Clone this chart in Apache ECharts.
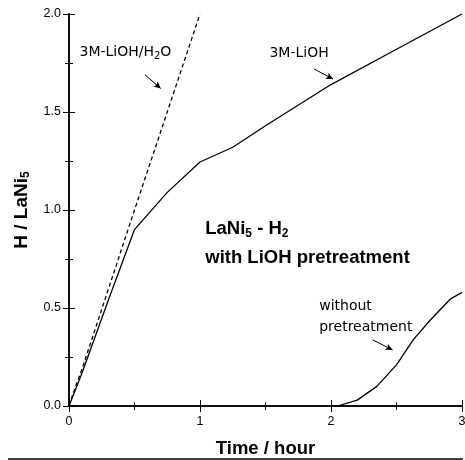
<!DOCTYPE html>
<html>
<head>
<meta charset="utf-8">
<script src="https://cdn.jsdelivr.net/npm/echarts@6/dist/echarts.min.js"></script>
<style>
  html, body { margin: 0; padding: 0; background: #fff; }
  #chart { width: 465px; height: 460px; }
</style>
</head>
<body>
<div id="chart"></div>
<script>
// values
const h2oTime = [0, 0.05, 0.1, 0.5, 1.0]
const h2oH = [0, 0.10, 0.19, 1.0, 2.0]
const liohTime = [0, 0.1, 0.3, 0.5, 0.75, 1.0, 1.25, 1.5, 2.0, 2.5, 3.0]
const liohH = [0, 0.17, 0.54, 0.9, 1.09, 1.245, 1.32, 1.43, 1.64, 1.82, 2.0]
const noPreTime = [2.05, 2.2, 2.35, 2.5, 2.63, 2.76, 2.91, 3.0]
const noPreH = [0, 0.03, 0.10, 0.21, 0.34, 0.44, 0.545, 0.58]

const zip = (xs, ys) => xs.map((x, i) => [x, ys[i]])
const font = 'Liberation Sans, Arial, Helvetica, sans-serif'
const wide = 'DejaVu Sans, Verdana, sans-serif'

const frameAxis = {
  type: 'value',
  axisLine: { show: true, lineStyle: { color: '#000', width: 1.5 } },
  axisTick: { show: true, inside: true, length: 6, lineStyle: { color: '#000', width: 1 } },
  minorTick: { show: true, splitNumber: 2, length: 4, lineStyle: { color: '#000', width: 1 } },
  splitLine: { show: false },
  minorSplitLine: { show: false }
}

const chart = echarts.init(document.getElementById('chart'))

const arrows = [
  [[0.58, 1.69], [0.70, 1.62]],
  [[1.87, 1.72], [2.015, 1.668]],
  [[2.32, 0.337], [2.47, 0.286]]
]

chart.setOption({
  animation: false,
  backgroundColor: '#fff',
  grid: { left: 69, right: 3, top: 14, bottom: 54, containLabel: false, outerBoundsMode: 'none' },
  xAxis: [
    Object.assign({}, frameAxis, {
      min: 0, max: 3, interval: 1, position: 'bottom',
      name: 'Time / hour', nameLocation: 'middle', nameGap: 33,
      nameTextStyle: { fontFamily: font, fontWeight: 'bold', fontSize: 18.5, color: '#000' },
      axisLabel: { margin: 9, fontFamily: font, fontSize: 12.5, color: '#000' }
    }),
    Object.assign({}, frameAxis, {
      min: 0, max: 3, interval: 1, position: 'top', axisLabel: { show: false }
    })
  ],
  yAxis: [
    Object.assign({}, frameAxis, {
      min: 0, max: 2, interval: 0.5, position: 'left',
      name: '{b|H / LaNi}{s|5}', nameLocation: 'middle', nameGap: 37,
      nameTextStyle: {
        rich: {
          b: { fontFamily: font, fontWeight: 'bold', fontSize: 19, color: '#000' },
          s: { fontFamily: font, fontWeight: 'bold', fontSize: 12, color: '#000', padding: [9, 0, 0, 0] }
        }
      },
      axisLabel: { margin: 8, fontFamily: font, fontSize: 12.5, color: '#000', formatter: v => v.toFixed(1) }
    }),
    Object.assign({}, frameAxis, {
      min: 0, max: 2, interval: 0.5, position: 'right', axisLabel: { show: false }
    })
  ],
  series: [
    {
      name: '3M-LiOH/H2O', type: 'line', data: zip(h2oTime, h2oH),
      symbol: 'none', lineStyle: { color: '#000', width: 1.3, type: [4, 3] }
    },
    {
      name: '3M-LiOH', type: 'line', data: zip(liohTime, liohH),
      symbol: 'none', lineStyle: { color: '#000', width: 1.3 }
    },
    {
      name: 'without pretreatment', type: 'line', data: zip(noPreTime, noPreH),
      symbol: 'none', lineStyle: { color: '#000', width: 1.3 },
      markLine: {
        silent: true, animation: false,
        symbol: ['none', 'arrow'], symbolSize: [5, 7],
        label: { show: false },
        lineStyle: { color: '#000', width: 1, type: 'solid' },
        data: arrows.map(a => [{ coord: a[0] }, { coord: a[1] }])
      }
    }
  ]
})

// annotation texts, anchored in data coordinates
const notes = [
  { at: [0.08, 1.806], text: '{n|3M-LiOH/H}{s|2}{n|O}' },
  { at: [1.53, 1.80], text: '{n|3M-LiOH}' },
  { at: [1.04, 0.905], text: '{b|LaNi}{bs|5}{b| - H}{bs|2}' },
  { at: [1.04, 0.755], text: '{b|with LiOH pretreatment}' },
  { at: [1.910, 0.51], text: '{n|without}' },
  { at: [1.910, 0.40], text: '{n|pretreatment}' }
]
const rich = {
  n: { fontFamily: wide, fontSize: 14, fill: '#000' },
  s: { fontFamily: wide, fontSize: 10, fill: '#000', padding: [8, 0, 0, 0] },
  b: { fontFamily: font, fontSize: 18.5, fontWeight: 'bold', fill: '#000' },
  bs: { fontFamily: font, fontSize: 12, fontWeight: 'bold', fill: '#000', padding: [10, 0, 0, 0] }
}
chart.setOption({
  graphic: notes.map(n => {
    const p = chart.convertToPixel({ xAxisIndex: 0, yAxisIndex: 0 }, n.at)
    return {
      type: 'text', x: p[0], y: p[1], silent: true,
      style: { text: n.text, rich: rich, verticalAlign: 'middle', align: 'left' }
    }
  }).concat([{
    type: 'line', silent: true,
    shape: { x1: 8, y1: 459, x2: 463, y2: 459 },
    style: { stroke: '#000', lineWidth: 1.5 }
  }])
})
</script>
</body>
</html>
